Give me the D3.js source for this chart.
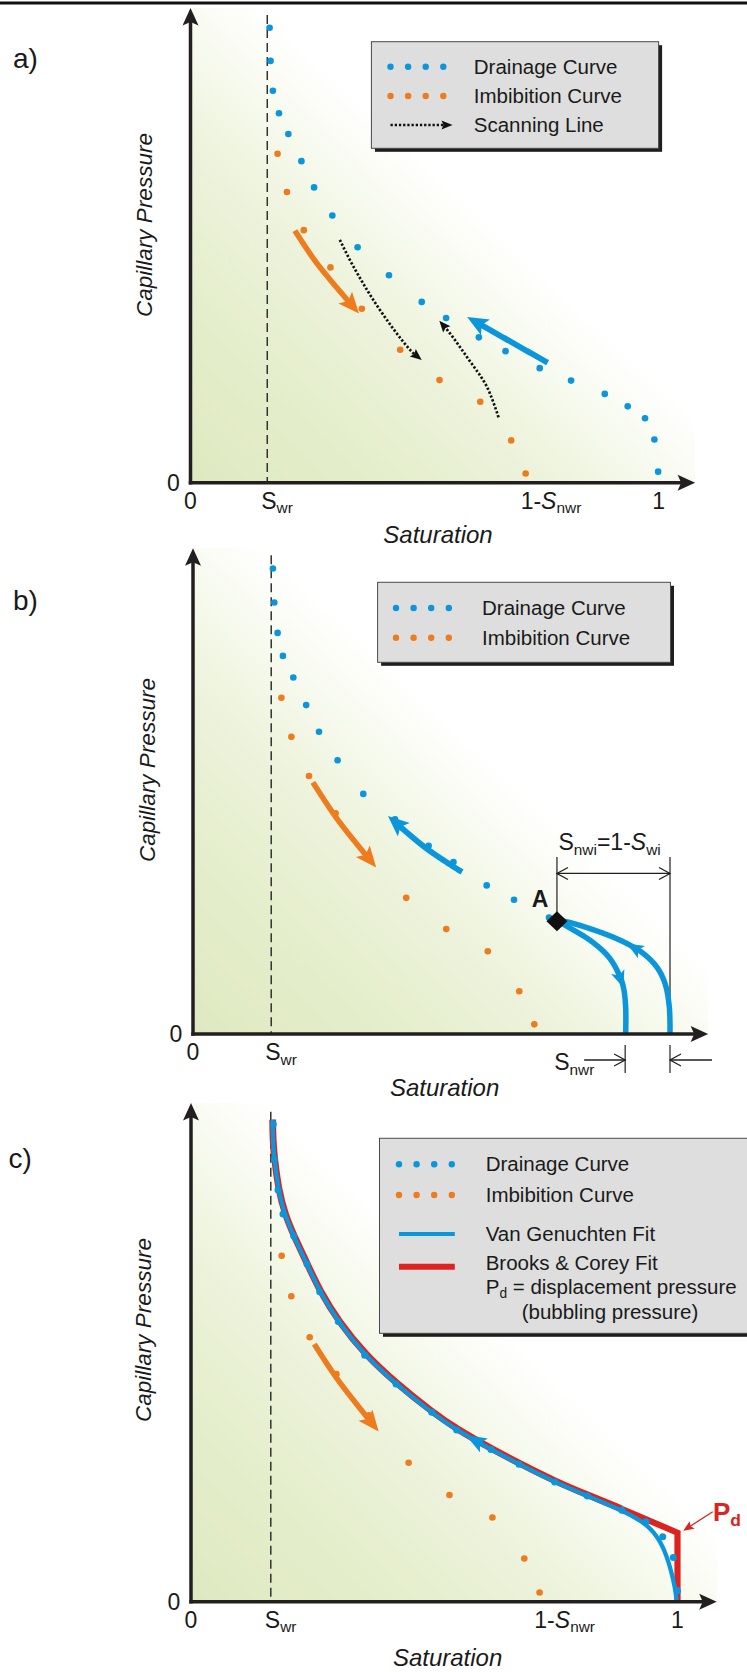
<!DOCTYPE html>
<html><head><meta charset="utf-8">
<script src="https://cdn.jsdelivr.net/npm/d3@7"></script>
<style>
html,body{margin:0;padding:0;background:#fff;}
svg{display:block;}
</style></head><body>
<svg id="chart" width="747" height="1672"></svg>
<script>
// ================= DATA (saturation 0..1, capillary pressure in relative units) =================
const swr = 0.164;

// ---- panel a ----
const drainageA = [[0.169,98.9],[0.171,91.7],[0.176,85.2],[0.189,80.3],[0.209,75.8],[0.237,69.9],[0.264,64.2],[0.303,58.1],[0.357,51.2],[0.424,45.1],[0.494,39.3],[0.546,35.8],[0.616,31.6],[0.673,28.6],[0.746,24.9],[0.813,22.2],[0.885,19.3],[0.934,16.6],[0.971,14.0],[0.991,9.4],[0.999,2.4]];
const imbibitionA = [[0.186,71.5],[0.206,63.2],[0.242,54.9],[0.299,46.8],[0.366,37.8],[0.448,28.9],[0.532,22.3],[0.619,17.6],[0.685,9.2],[0.716,2.0]];
const imbArrowA = [[0.223,54.8],[0.270,47.7],[0.360,36.8]];
const drnArrowA = [[0.763,26.1],[0.690,30.3],[0.633,33.6],[0.591,36.0]];
const scanDownA = [[0.319,52.8],[0.348,47.0],[0.405,37.5],[0.4725,28.5],[0.494,26.7]];
const scanUpA = [[0.658,14.2],[0.633,20.9],[0.590,27.4],[0.554,32.5],[0.5315,35.2]];
const snwrA = 0.284;
const legendLabelsA = ["Drainage Curve","Imbibition Curve","Scanning Line"];

// ---- panel b ----
const drainageB = [[0.1675,101.2],[0.1704,93.8],[0.1774,87.2],[0.1885,82.2],[0.2103,77.5],[0.2373,71.5],[0.2642,65.7],[0.3031,59.5],[0.357,52.2],[0.4235,46.7],[0.494,40.9],[0.546,37.4],[0.6157,32.3],[0.673,29.2],[0.7463,25.3]];
const imbibitionB = [[0.1853,73.1],[0.2063,64.6],[0.2432,56.1],[0.299,48.0],[0.366,38.7],[0.447,29.6],[0.531,22.8],[0.618,18.0],[0.684,9.3],[0.7155,2.1]];
const imbArrowB = [[0.2514,54.7],[0.304,46.5],[0.3841,36.2]];
const drnArrowB = [[0.564,35.2],[0.4885,40.4],[0.4088,47.4]];
const pointA = [0.763,24.5];
const scanImbB = [[0.765,24.5],[0.832,20.4],[0.871,16.8],[0.892,13.2],[0.902,10.3],[0.907,5.9],[0.907,0]];
const scanDrnB = [[1.0,0],[0.9985,5.9],[0.9895,11.0],[0.972,14.6],[0.944,17.5],[0.909,19.7],[0.860,21.9],[0.783,24.4],[0.765,24.6]];
const snwrB = 0.094;
const legendLabelsB = ["Drainage Curve","Imbibition Curve"];

// ---- panel c ----
const drainageC = [[0.1692,103.8],[0.1712,96.2],[0.1788,89.5],[0.1891,84.3],[0.2111,79.5],[0.2384,73.4],[0.2645,67.4],[0.3028,60.9],[0.357,53.6],[0.4214,47.3],[0.4948,41.2],[0.5461,37.3],[0.6166,33.1],[0.6742,29.9],[0.7476,26.0],[0.8146,23.0],[0.8859,19.9],[0.9353,17.4],[0.9696,14.1],[0.9914,9.6],[1.0,2.4]];
const imbibitionC = [[0.1864,75.2],[0.2062,66.4],[0.244,57.5],[0.299,49.5],[0.366,40.5],[0.4473,30.2],[0.5313,23.2],[0.6195,18.3],[0.6851,9.4],[0.7165,2.0]];
const imbArrowC = [[0.2534,56.0],[0.3022,48.2],[0.3857,37.0]];
const vanGenuchtenC = [[0.1679,104.8],[0.1683,100.0],[0.1716,96.0],[0.1795,89.6],[0.1925,84.2],[0.2117,79.3],[0.2384,73.4],[0.2652,67.3],[0.3032,60.8],[0.357,53.6],[0.4214,47.3],[0.4948,41.1],[0.5461,37.3],[0.6166,33.1],[0.6742,29.9],[0.7476,26.0],[0.8146,23.0],[0.885,19.9],[0.9366,17.0],[0.9641,13.4],[0.9811,9.1],[0.9949,3.3],[0.9984,0]];
const brooksCoreyC = [[0.1679,104.8],[0.1685,100.1],[0.1718,96.1],[0.1799,89.7],[0.1929,84.3],[0.2121,79.4],[0.2388,73.5],[0.2656,67.4],[0.3036,60.9],[0.3574,53.8],[0.4218,47.5],[0.4952,41.3],[0.5465,37.5],[0.617,33.3],[0.6746,30.1],[0.748,26.2],[0.815,23.2],[0.885,20.2]];
const brooksCoreyTail = [[0.885,20.2],[1.0,15.0],[1.0,0]];
const pdC = 15.0;
const snwrC = 0.284;
const legendLabelsC = ["Drainage Curve","Imbibition Curve","Van Genuchten Fit","Brooks & Corey Fit"];

// ================= STYLE =================
const BLUE="#0b95db", ORANGE="#ee7b1d", RED="#dc2320", INK="#231f20", TXT="#1a1a1a";
const FONT='"Liberation Sans", Arial, Helvetica, sans-serif';
const FS_LEG = 20.5, FS_TICK = 23, FS_TITLE = 24, FS_CAP = 22.5, FS_TAG = 28;

const svg = d3.select("#chart");
const defs = svg.append("defs");
const grad = defs.append("linearGradient").attr("id","bg").attr("x1",0).attr("y1",1).attr("x2",1).attr("y2",0);
[[0,"#dfe9c0"],[0.2,"#e5eecc"],[0.36,"#edf3dc"],[0.47,"#f7faee"],[0.57,"#ffffff"],[1,"#ffffff"]]
  .forEach(s=>grad.append("stop").attr("offset",s[0]).attr("stop-color",s[1]));

svg.append("line").attr("x1",0).attr("x2",747).attr("y1",3).attr("y2",3).attr("stroke","#111").attr("stroke-width",3);

// ================= HELPERS =================
function richText(g, x, y, segs, size, anchor, fill, weight){
  const t = g.append("text").attr("x",x).attr("y",y).attr("font-size",size)
    .attr("text-anchor",anchor||"start").attr("fill",fill||TXT).attr("font-family",FONT);
  if(weight) t.attr("font-weight",weight);
  let shift = 0;
  segs.forEach(s=>{
    const ts = t.append("tspan").text(s.t);
    if(s.i) ts.attr("font-style","italic");
    const target = s.sub ? size*0.2 : 0;
    if(target!==shift){ ts.attr("dy", target-shift); shift = target; }
    if(s.sub) ts.attr("font-size", size*0.67);
  });
  return t;
}
function headPath(tip, ang, len, hw, notch){
  const c=Math.cos(ang), s=Math.sin(ang), nx=-s, ny=c;
  const bx=tip[0]-c*len, by=tip[1]-s*len;
  const p1=[bx+nx*hw, by+ny*hw], p2=[tip[0]-c*(len-notch), tip[1]-s*(len-notch)], p3=[bx-nx*hw, by-ny*hw];
  return `M${tip[0]},${tip[1]}L${p1[0]},${p1[1]}L${p2[0]},${p2[1]}L${p3[0]},${p3[1]}Z`;
}
function sampleLine(g, pts, curve){
  const p = g.append("path").attr("d", d3.line().curve(curve||d3.curveCatmullRom)(pts));
  const node = p.node(), L = node.getTotalLength();
  const n = Math.max(40, Math.ceil(L*2));
  const s = d3.range(n+1).map(i=>{const q=node.getPointAtLength(L*i/n); return [q.x,q.y];});
  p.remove();
  return {s, step: L/n};
}
function endArrow(g, pts, o){
  const {s, step} = sampleLine(g, pts, o.curve);
  const nBack = Math.round(o.len/step);
  const tip = s[s.length-1], ref = s[Math.max(0, s.length-1-nBack)];
  const ang = Math.atan2(tip[1]-ref[1], tip[0]-ref[0]);
  const nTrim = Math.round(o.len*(o.trim||0.6)/step);
  const body = s.slice(0, s.length-nTrim);
  g.append("path").attr("d", d3.line()(body)).attr("fill","none").attr("stroke",o.color)
    .attr("stroke-width",o.width).attr("stroke-dasharray",o.dash||null).attr("stroke-linecap","butt");
  g.append("path").attr("d", headPath(tip, ang, o.len, o.hw, o.notch)).attr("fill",o.color);
}
function curveWithMidArrow(g, pts, target, forward, o){
  const {s, step} = sampleLine(g, pts, o.curve);
  g.append("path").attr("d", d3.line()(s)).attr("fill","none").attr("stroke",o.color)
    .attr("stroke-width",o.width).attr("stroke-linejoin","round");
  if(!target) return;
  let bi=0, bd=1e9;
  s.forEach((p,i)=>{const d=(p[0]-target[0])**2+(p[1]-target[1])**2; if(d<bd){bd=d;bi=i;}});
  const nBack = Math.round(o.len/step);
  const tip = s[bi];
  const ref = forward ? s[Math.max(0,bi-nBack)] : s[Math.min(s.length-1,bi+nBack)];
  const ang = Math.atan2(tip[1]-ref[1], tip[0]-ref[0]);
  g.append("path").attr("d", headPath(tip, ang, o.len, o.hw, o.notch)).attr("fill",o.color);
}
function dots(g, data, x, y, color, r){
  g.selectAll(null).data(data).enter().append("circle")
    .attr("cx",d=>x(d[0])).attr("cy",d=>y(d[1])).attr("r",r||3.3).attr("fill",color);
}
function chevron(g, tip, dir){
  g.append("path").attr("d",`M${tip[0]-dir*11},${tip[1]-6}L${tip[0]},${tip[1]}L${tip[0]-dir*11},${tip[1]+6}`)
    .attr("fill","none").attr("stroke",INK).attr("stroke-width",1.3);
}
function legendBox(g, L){
  g.append("rect").attr("x",L.x+3.5).attr("y",L.y+3.5).attr("width",L.w).attr("height",L.h).attr("fill","#1e1e1e");
  g.append("rect").attr("x",L.x).attr("y",L.y).attr("width",L.w).attr("height",L.h)
    .attr("fill","#dedede").attr("stroke","#4a4a4a").attr("stroke-width",1);
}
function legendDots(g, x0, yc, color){
  d3.range(4).forEach(i=>g.append("circle").attr("cx",x0+i*17.6).attr("cy",yc).attr("r",3.2).attr("fill",color));
}

// ================= PANELS =================
const panels = [
 {key:"a", x0:190.5, x1:658.6, axisY:482.7, xTip:1.078, yTip:103.2, dashTop:101.7,
  tag:[13,68], capX:152, capY:225, satX:438, satY:543,
  legend:{x:371.4,y:41.7,w:287.2,h:106.6,dotX:390.5,textX:473.8,rows:[66.7,96,125]}},
 {key:"b", x0:193, x1:670, axisY:1034, xTip:1.08, yTip:105.6, dashTop:104.1,
  tag:[13,610], capX:155, capY:770, satX:444.6, satY:1096,
  legend:{x:377.6,y:582.3,w:292.9,h:80,dotX:396,textX:482,rows:[608,637.7]}},
 {key:"c", x0:191, x1:677.5, axisY:1601.7, xTip:1.0806, yTip:108.4, dashTop:106.5,
  tag:[8.5,1168], capX:150.5, capY:1330, satX:447.6, satY:1666,
  legend:{x:379.5,y:1138.3,w:380,h:195,dotX:399,textX:485.7,rows:[1164.3,1195,1234,1266.7]}}
];

const ORANGE_ARROW = {color:ORANGE,width:5.5,len:21,hw:9,notch:4.5};
const BLUE_ARROW = {color:BLUE,width:5.8,len:21,hw:9,notch:4.5};
const SCAN_ARROW = {color:"#111",width:2.7,len:11.5,hw:4.8,notch:2,dash:"2.3,1.9",trim:0.5};

panels.forEach(P=>{
  const g = svg.append("g");
  const x = d3.scaleLinear().domain([0,1]).range([P.x0,P.x1]);
  const y = d3.scaleLinear().domain([0,100]).range([P.axisY,P.axisY-460]);
  const px = d=>[x(d[0]),y(d[1])];

  g.append("rect").attr("x",x(0)).attr("y",y(P.yTip)).attr("width",x(P.xTip)-x(0))
    .attr("height",y(0)-y(P.yTip)).attr("fill","url(#bg)");
  g.append("line").attr("x1",x(swr)).attr("x2",x(swr)).attr("y1",y(P.dashTop)).attr("y2",y(0))
    .attr("stroke","#333").attr("stroke-width",1.5).attr("stroke-dasharray","9,5");

  if(P.key==="a"){
    dots(g, imbibitionA, x, y, ORANGE);
    dots(g, drainageA, x, y, BLUE);
    endArrow(g, imbArrowA.map(px), ORANGE_ARROW);
    endArrow(g, drnArrowA.map(px), BLUE_ARROW);
    endArrow(g, scanDownA.map(px), SCAN_ARROW);
    endArrow(g, scanUpA.map(px), SCAN_ARROW);
  }
  if(P.key==="b"){
    dots(g, imbibitionB, x, y, ORANGE);
    dots(g, drainageB, x, y, BLUE);
    endArrow(g, imbArrowB.map(px), ORANGE_ARROW);
    endArrow(g, drnArrowB.map(px), BLUE_ARROW);
    const yTop = y(38.5), yArr = y(34.9);
    g.append("line").attr("x1",x(pointA[0])).attr("x2",x(pointA[0])).attr("y1",yTop).attr("y2",y(pointA[1])-6)
      .attr("stroke",INK).attr("stroke-width",1.2);
    g.append("line").attr("x1",x(1)).attr("x2",x(1)).attr("y1",yTop).attr("y2",y(0))
      .attr("stroke",INK).attr("stroke-width",1.2);
    g.append("line").attr("x1",x(pointA[0])).attr("x2",x(1)).attr("y1",yArr).attr("y2",yArr)
      .attr("stroke",INK).attr("stroke-width",1.3);
    chevron(g,[x(pointA[0]),yArr],-1);
    chevron(g,[x(1),yArr],1);
    richText(g, x(pointA[0])+1.5, yTop-7,
      [{t:"S"},{t:"nwi",sub:true},{t:"=1-"},{t:"S",i:true},{t:"wi",sub:true}], FS_TICK, "start");
    curveWithMidArrow(g, scanImbB.map(px), px([0.9,10.0]), true, {color:BLUE,width:5.5,len:17,hw:7,notch:4});
    curveWithMidArrow(g, scanDrnB.map(px), px([0.906,18.85]), true, {color:BLUE,width:5.5,len:17,hw:7,notch:4});
    const a = px(pointA);
    g.append("path").attr("d",`M${a[0]},${a[1]-10}L${a[0]+10.5},${a[1]}L${a[0]},${a[1]+10}L${a[0]-10.5},${a[1]}Z`)
      .attr("fill","#111");
    g.append("text").attr("x",a[0]-17).attr("y",a[1]-14).attr("text-anchor","middle").attr("font-size",23)
      .attr("font-weight","bold").attr("font-family",FONT).attr("fill",TXT).text("A");
    const xs = x(1-snwrB), yb = y(0);
    [xs, x(1)].forEach(v=>g.append("line").attr("x1",v).attr("x2",v).attr("y1",yb+11).attr("y2",yb+39)
      .attr("stroke",INK).attr("stroke-width",1.2));
    g.append("line").attr("x1",xs-41).attr("x2",xs).attr("y1",yb+26).attr("y2",yb+26).attr("stroke",INK).attr("stroke-width",1.3);
    chevron(g,[xs,yb+26],1);
    g.append("line").attr("x1",x(1)+42).attr("x2",x(1)).attr("y1",yb+26).attr("y2",yb+26).attr("stroke",INK).attr("stroke-width",1.3);
    chevron(g,[x(1),yb+26],-1);
    richText(g, xs-71, yb+36, [{t:"S"},{t:"nwr",sub:true}], FS_TICK, "start");
  }
  if(P.key==="c"){
    dots(g, imbibitionC, x, y, ORANGE);
    endArrow(g, imbArrowC.map(px), ORANGE_ARROW);
    g.append("path").attr("d", d3.line().curve(d3.curveBasis)(brooksCoreyC.map(px)))
      .attr("fill","none").attr("stroke",RED).attr("stroke-width",6.8);
    g.append("path").attr("d", d3.line()(brooksCoreyTail.map(px)))
      .attr("fill","none").attr("stroke",RED).attr("stroke-width",6.2).attr("stroke-linejoin","miter");
    curveWithMidArrow(g, vanGenuchtenC.map(px), px([0.5667,36.6]), false,
      {color:BLUE,width:4.3,len:21,hw:8,notch:4.5,curve:d3.curveBasis});
    dots(g, drainageC, x, y, BLUE, 3.5);
    const pd = px([1,pdC]);
    const tip=[pd[0]+5.8,pd[1]-2], st=[pd[0]+35.2,pd[1]-21];
    const ang=Math.atan2(tip[1]-st[1],tip[0]-st[0]);
    g.append("line").attr("x1",st[0]).attr("y1",st[1]).attr("x2",tip[0]-Math.cos(ang)*6).attr("y2",tip[1]-Math.sin(ang)*6)
      .attr("stroke",RED).attr("stroke-width",1.3);
    g.append("path").attr("d",headPath(tip,ang,10.5,4.5,2)).attr("fill",RED);
    richText(g, pd[0]+35.5, pd[1]-12, [{t:"P"},{t:"d",sub:true}], 26, "start", RED, "bold");
  }

  // axes
  g.append("line").attr("x1",x(0)-1.75).attr("x2",x(P.xTip)-12).attr("y1",y(0)).attr("y2",y(0))
    .attr("stroke",INK).attr("stroke-width",3.5);
  g.append("path").attr("d",headPath([x(P.xTip),y(0)],0,17.5,8,3.5)).attr("fill",INK);
  g.append("line").attr("x1",x(0)).attr("x2",x(0)).attr("y1",y(0)+1.75).attr("y2",y(P.yTip)+12)
    .attr("stroke",INK).attr("stroke-width",3.5);
  g.append("path").attr("d",headPath([x(0),y(P.yTip)],-Math.PI/2,17.5,8,3.5)).attr("fill",INK);

  // tick labels
  const tb = y(0)+26;
  richText(g, x(0)-17, y(0)+8, [{t:"0"}], FS_TICK, "middle");
  richText(g, x(0), tb, [{t:"0"}], FS_TICK, "middle");
  richText(g, x(swr)-6, tb, [{t:"S"},{t:"wr",sub:true}], FS_TICK, "start");
  if(P.key!=="b"){
    const sn = P.key==="a"? snwrA : snwrC;
    richText(g, x(1-sn)-5, tb, [{t:"1-"},{t:"S",i:true},{t:"nwr",sub:true}], FS_TICK, "start");
    richText(g, x(1), tb, [{t:"1"}], FS_TICK, "middle");
  }
  g.append("text").attr("transform",`translate(${P.capX},${P.capY}) rotate(-90)`).attr("text-anchor","middle")
    .attr("font-size",FS_CAP).attr("font-style","italic").attr("font-family",FONT).attr("fill",TXT).text("Capillary Pressure");
  g.append("text").attr("x",P.satX).attr("y",P.satY).attr("text-anchor","middle")
    .attr("font-size",FS_TITLE).attr("font-style","italic").attr("font-family",FONT).attr("fill",TXT).text("Saturation");
  g.append("text").attr("x",P.tag[0]).attr("y",P.tag[1]).attr("font-size",FS_TAG).attr("font-family",FONT)
    .attr("fill",TXT).text(P.key+")");

  // legend
  const L = P.legend;
  legendBox(g, L);
  const labels = P.key==="a"?legendLabelsA:(P.key==="b"?legendLabelsB:legendLabelsC);
  legendDots(g, L.dotX, L.rows[0], BLUE);
  legendDots(g, L.dotX, L.rows[1], ORANGE);
  if(P.key==="a"){
    endArrow(g, [[L.dotX,L.rows[2]],[L.dotX+62,L.rows[2]]], {color:"#111",width:2.4,len:11,hw:4.5,notch:2,dash:"2.3,1.9",trim:0.5,curve:d3.curveLinear});
  }
  if(P.key==="c"){
    g.append("line").attr("x1",L.dotX).attr("x2",L.dotX+55.8).attr("y1",L.rows[2]).attr("y2",L.rows[2]).attr("stroke",BLUE).attr("stroke-width",4);
    g.append("line").attr("x1",L.dotX).attr("x2",L.dotX+55.8).attr("y1",L.rows[3]).attr("y2",L.rows[3]).attr("stroke",RED).attr("stroke-width",6);
  }
  labels.forEach((lab,i)=>{
    const dy = (P.key==="c" && i===3) ? 3.5 : 7;
    richText(g, L.textX, L.rows[i]+dy, [{t:lab}], FS_LEG, "start");
  });
  if(P.key==="c"){
    richText(g, L.textX, L.rows[3]+27, [{t:"P"},{t:"d",sub:true},{t:" = displacement pressure"}], FS_LEG, "start");
    richText(g, 610, L.rows[3]+52, [{t:"(bubbling pressure)"}], FS_LEG, "middle");
  }
});
</script>
</body></html>
